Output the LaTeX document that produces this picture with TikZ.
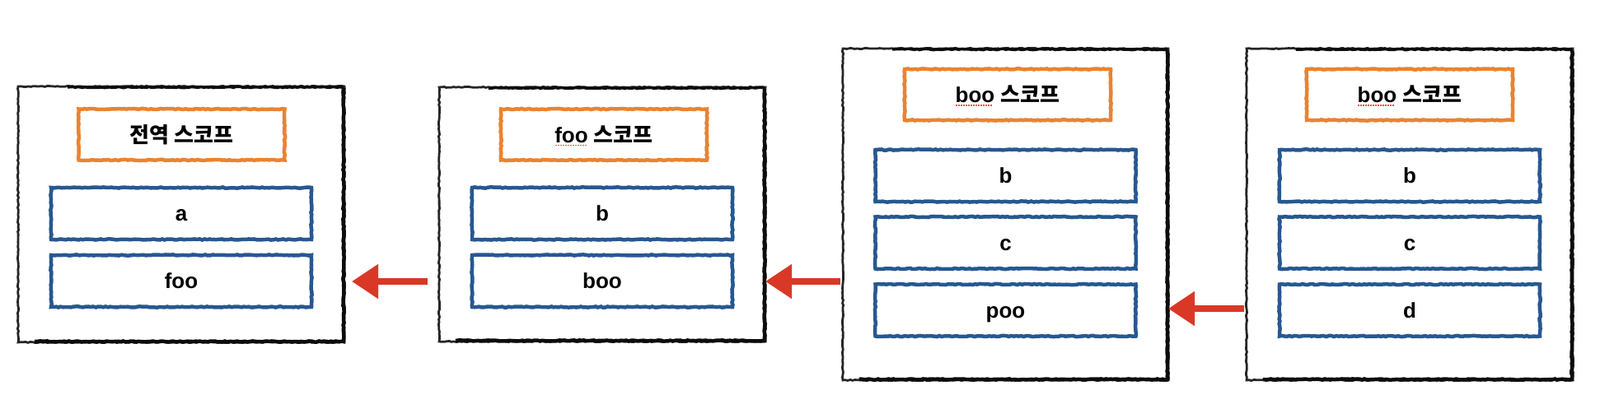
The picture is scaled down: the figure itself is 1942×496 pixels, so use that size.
\documentclass[tikz,border=0pt]{standalone}
\usepackage{fontspec}
\setmainfont{Liberation Sans}
\newfontfamily\krfont{Noto Sans CJK KR}
\usetikzlibrary{arrows.meta,decorations.pathmorphing,calc}
\definecolor{sketchorange}{RGB}{234,131,48}
\definecolor{sketchblue}{RGB}{38,88,145}
\definecolor{sketchred}{RGB}{218,56,38}
\definecolor{spellred}{RGB}{232,80,80}
\newsavebox\spellbox
\newcommand{\spellmark}[1]{\sbox\spellbox{#1}\rlap{\raisebox{-4pt}{\textcolor{spellred}{\leaders\hbox to 3pt{\hss\rule{1.5pt}{1.5pt}\hss}\hskip\wd\spellbox}}}\usebox\spellbox}
\tikzset{
  rough/.style={decorate, decoration={random steps, segment length=3pt, amplitude=0.6pt}},
  scopebox/.style={draw=black!85, line width=2.8pt, rough, outer sep=0pt, minimum width=396pt, inner sep=0pt},
  heavyedge/.style={draw=black!95, line width=4.5pt, rough},
  titlebox/.style={draw=sketchorange, line width=4.5pt, rough, outer sep=0pt, minimum width=250pt, minimum height=62pt, inner sep=0pt,
    text height=19pt, text depth=0pt, font=\fontsize{26pt}{30pt}\selectfont\bfseries},
  varbox/.style={draw=sketchblue, line width=4.5pt, rough, outer sep=0pt, minimum width=316pt, minimum height=63pt, inner sep=0pt,
    text height=18.6pt, text depth=0pt, font=\fontsize{26pt}{30pt}\selectfont\bfseries},
  arr/.style={draw=sketchred, line width=8pt, -{Triangle[length=32pt,width=40pt]}},
}
\begin{document}
\begin{tikzpicture}[x=1pt,y=-1pt]
\useasboundingbox (0,0) rectangle (1942,496);
% outer scope boxes
\node[scopebox, minimum height=311pt] (box1) at (220,260.5) {};
\node[scopebox, minimum height=309pt] (box2) at (731,260.5) {};
\node[scopebox, minimum height=403pt, minimum width=395pt] (box3) at (1220.5,260.5) {};
\node[scopebox, minimum height=403pt] (box4) at (1711,260.5) {};
\foreach \b in {box1,box2,box3,box4}{
  \draw[heavyedge] ($(\b.north east)+(-1,2)$) -- ($(\b.south east)+(-1,-1)$) -- ($(\b.south west)+(20,-1)$);
  \draw[heavyedge, line width=3.5pt] ($(\b.north west)+(60,1)$) -- ($(\b.north east)+(-1,1)$);
}
% box 1
\node[titlebox] (t1) at (220.5,163.5) {\krfont 전역 스코프};
\node[varbox] (a1) at (220,259.5) {a};
\node[varbox] (foo1) at (220,341.5) {foo};
% box 2
\node[titlebox] (t2) at (733,163.5) {\spellmark{foo} {\krfont 스코프}};
\node[varbox] (b2) at (731,259.5) {b};
\node[varbox] (boo2) at (731,341.5) {boo};
% box 3
\node[titlebox] (t3) at (1223,115) {\spellmark{boo} {\krfont 스코프}};
\node[varbox] (b3) at (1220.5,213.5) {b};
\node[varbox] (c3) at (1220.5,295) {c};
\node[varbox] (poo3) at (1220.5,377) {poo};
% box 4
\node[titlebox] (t4) at (1711,115) {\spellmark{boo} {\krfont 스코프}};
\node[varbox] (b4) at (1711,213.5) {b};
\node[varbox] (c4) at (1711,295) {c};
\node[varbox] (d4) at (1711,377) {d};
% arrows
\draw[arr] ($(box2.west |- foo1)+(-14,0.5)$) -- ($(box1.east |- foo1)+(9,0.5)$);
\draw[arr] ($(box3.west |- boo2)+(-3,0.5)$) -- ($(box2.east |- boo2)+(0,0.5)$);
\draw[arr] ($(box4.west |- poo3)+(-3,-2)$) -- ($(box3.east |- poo3)+(0,-2)$);
\end{tikzpicture}
\end{document}
